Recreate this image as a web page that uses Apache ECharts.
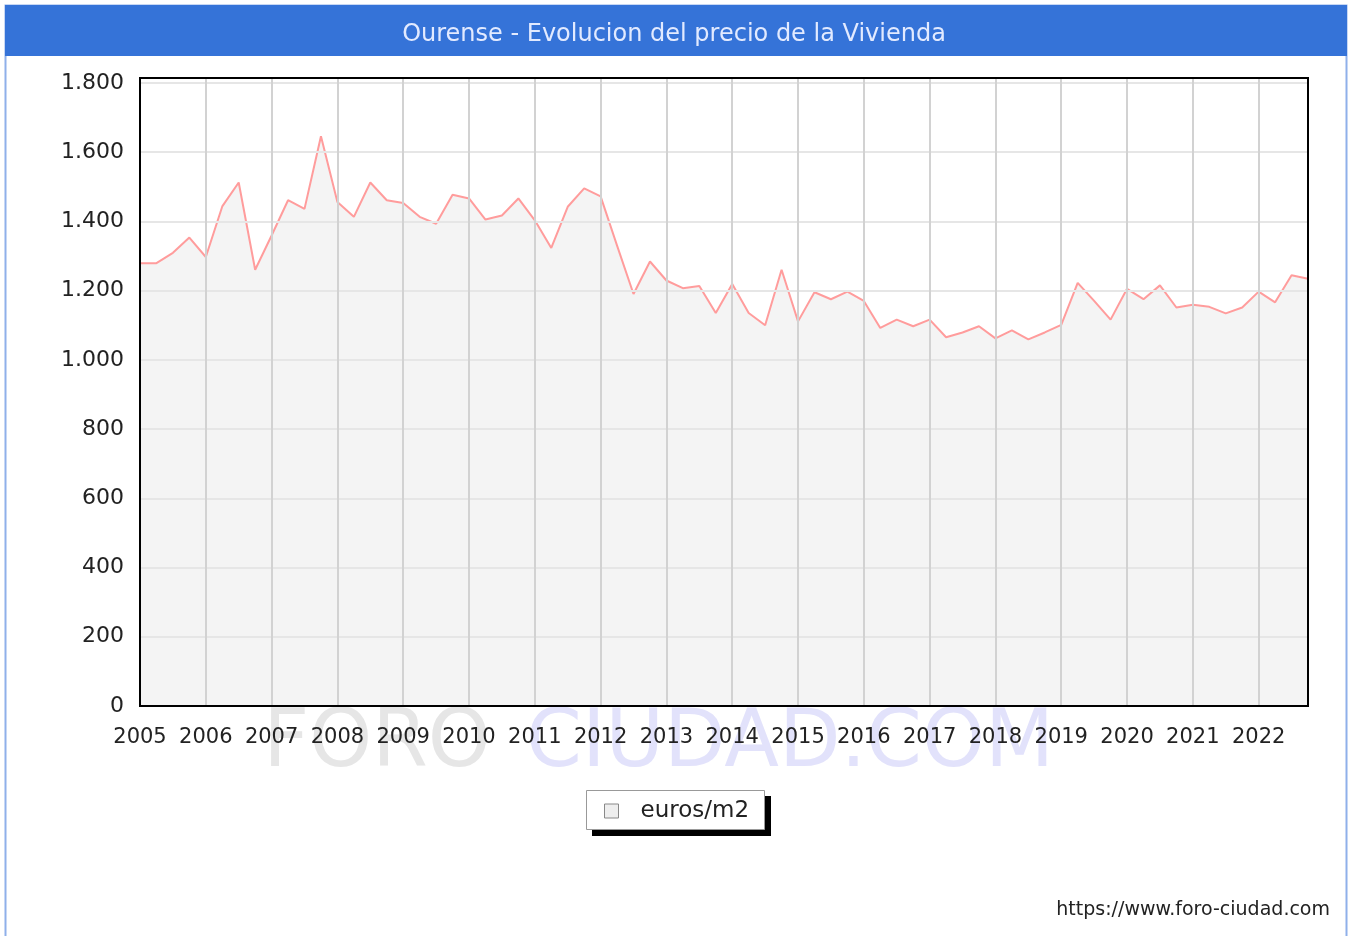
<!DOCTYPE html>
<html>
<head>
<meta charset="utf-8">
<title>Ourense - Evolucion del precio de la Vivienda</title>
<script src="https://cdn.jsdelivr.net/npm/echarts@6/dist/echarts.min.js"></script>
<style>
  html, body { margin: 0; padding: 0; background: #fff; }
  #chart { width: 1348px; height: 936px; }
</style>
</head>
<body>
<div id="chart"></div>
<script>
// years shown on the axis, one point per quarter
const years = [2005, 2006, 2007, 2008, 2009, 2010, 2011, 2012, 2013,
  2014, 2015, 2016, 2017, 2018, 2019, 2020, 2021, 2022];
const quarters = ['T1', 'T2', 'T3', 'T4'];

// euros/m2 (2005 T1 .. 2022 T4)
const precio = [
  1279, 1279, 1309, 1353, 1297, 1443, 1512, 1260,   // 2005-2006
  1359, 1461, 1436, 1646, 1456, 1413, 1512, 1461,   // 2007-2008
  1453, 1413, 1393, 1477, 1466, 1405, 1417, 1466,   // 2009-2010
  1403, 1323, 1442, 1495, 1472, 1330, 1190, 1284,   // 2011-2012
  1229, 1207, 1213, 1135, 1219, 1135, 1100, 1260,   // 2013-2014
  1111, 1195, 1175, 1197, 1170, 1092, 1116, 1097,   // 2015-2016
  1116, 1065, 1079, 1097, 1062, 1085, 1059, 1079,   // 2017-2018
  1101, 1222, 1170, 1116, 1205, 1175, 1215, 1151,   // 2019-2020
  1159, 1153, 1134, 1151, 1197, 1166, 1244, 1234    // 2021-2022
];

const yTicks = [0, 200, 400, 600, 800, 1000, 1200, 1400, 1600, 1800];

const categorias = [];
years.forEach(y => quarters.forEach(q => categorias.push(y + ' ' + q)));

const fmtMiles = v => String(v).replace(/\B(?=(\d{3})+(?!\d))/g, '.');

const chart = echarts.init(document.getElementById('chart'));
const FONT = 'DejaVu Sans';

const option = {
  backgroundColor: '#ffffff',
  animation: false,
  textStyle: { fontFamily: FONT },
  graphic: [
    // outer frame
    { type: 'rect', z: 0, shape: { x: 5.5, y: 5.5, width: 1341, height: 940 },
      style: { fill: 'none', stroke: '#8fb0ea', lineWidth: 2 } },
    // title bar
    { type: 'rect', z: 1, shape: { x: 5, y: 5, width: 1342, height: 51 },
      style: { fill: '#3573d8' } },
    { type: 'text', z: 2, left: 'center', top: 23,
      style: { text: 'Ourense - Evolucion del precio de la Vivienda', fill: '#e2eaff',
        font: '24px "DejaVu Sans"' } },
    // watermark
    { type: 'text', z: 0, x: 377, y: 745,
      style: { text: 'FORO', align: 'center', verticalAlign: 'middle',
        fill: '#e6e6e6', font: '80px "DejaVu Sans"' } },
    { type: 'text', z: 0, x: 790, y: 745,
      style: { text: 'CIUDAD.COM', align: 'center', verticalAlign: 'middle',
        fill: '#e2e2fb', font: '80px "DejaVu Sans"' } },
    // legend box with its hard shadow
    { type: 'rect', z: 5, shape: { x: 592, y: 796, width: 179, height: 40 },
      style: { fill: '#000' } },
    { type: 'rect', z: 6, shape: { x: 586.5, y: 790.5, width: 178, height: 39 },
      style: { fill: '#fff', stroke: '#999', lineWidth: 1 } },
    // footer
    { type: 'text', z: 2, right: 18, top: 901,
      style: { text: 'https://www.foro-ciudad.com', fill: '#222', font: '19px "DejaVu Sans"' } }
  ],
  grid: {
    left: 140, right: 40, top: 78, bottom: 230,
    show: true, backgroundColor: 'transparent', borderColor: '#000', borderWidth: 2, z: 5
  },
  legend: {
    left: 604, top: 799, padding: 0, z: 7,
    icon: 'rect', itemWidth: 14, itemHeight: 14,
    itemStyle: { color: '#eeeeee', borderColor: '#888', borderWidth: 1 },
    textStyle: { fontSize: 23, lineHeight: 24, color: '#222', fontFamily: FONT, padding: [0, 0, 0, 17] },
    data: ['euros/m2']
  },
  xAxis: {
    type: 'category',
    data: categorias,
    boundaryGap: false,
    z: 3,
    axisLine: { show: false },
    axisTick: { show: false },
    axisLabel: {
      interval: 3, margin: 21, fontSize: 21, color: '#222', fontFamily: FONT,
      formatter: v => v.split(' ')[0]
    },
    splitLine: {
      show: true, interval: 3,
      lineStyle: { color: '#d2d2d2', width: 2 }
    }
  },
  yAxis: {
    type: 'value',
    min: 0, max: 1814, interval: 200,
    z: 3,
    axisLine: { show: false },
    axisTick: { show: false },
    axisLabel: {
      margin: 16, fontSize: 22, color: '#222', fontFamily: FONT,
      formatter: v => yTicks.indexOf(v) >= 0 ? fmtMiles(v) : ''
    },
    splitLine: { lineStyle: { color: '#e6e6e6', width: 2 } }
  },
  series: [{
    name: 'euros/m2',
    type: 'line',
    data: precio,
    symbol: 'none',
    z: 2,
    lineStyle: { color: '#ff9c9c', width: 2 },
    itemStyle: { color: '#eeeeee' },
    areaStyle: { color: '#f4f4f4', opacity: 1 }
  }]
};

chart.setOption(option);

window.addEventListener('resize', () => chart.resize());
</script>
</body>
</html>
